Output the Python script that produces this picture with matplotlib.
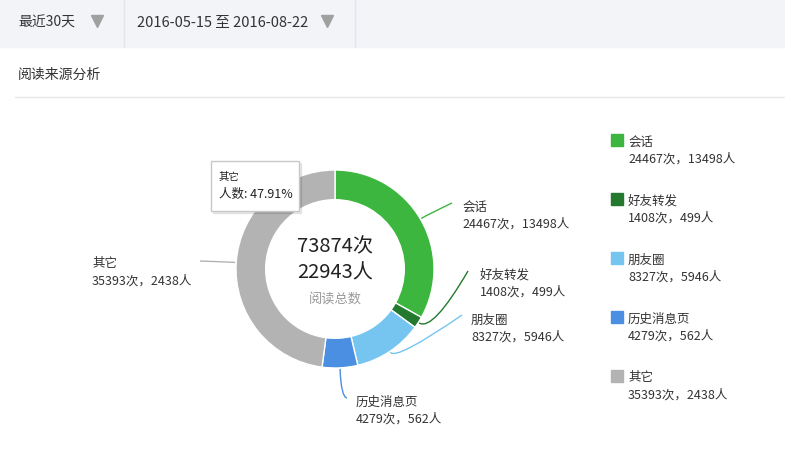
import numpy as np
import matplotlib
matplotlib.use("Agg")
import matplotlib.pyplot as plt
from matplotlib.patches import Rectangle, PathPatch
from matplotlib.path import Path

plt.rcParams['font.family'] = ['Noto Sans CJK SC', 'DejaVu Sans']

sources = ['会话', '好友转发', '朋友圈', '历史消息页', '其它']
reads = [24467, 1408, 8327, 4279, 35393]
people = [13498, 499, 5946, 562, 2438]
colors = ['#3db63f', '#237a2e', '#76c5f0', '#4a8fe2', '#b3b3b3']
period = '最近30天'
date_range = '2016-05-15 至 2016-08-22'
title = '阅读来源分析'
tip_name = '其它'
tip_text = '人数: 47.91%'

W, H = 785, 466
fig = plt.figure(figsize=(W / 100, H / 100), dpi=100)
ax = fig.add_axes([0, 0, 1, 1])
ax.set_xlim(0, W)
ax.set_ylim(H, 0)
ax.axis('off')
ax.set_zorder(2)
ax.patch.set_alpha(0)

txt = '#333333'

# top filter bar
ax.add_patch(Rectangle((0, 0), W, 47, color='#f3f4f8', zorder=0))
for xs in (124, 355):
    ax.plot([xs, xs], [0, 47], color='#e3e4e9', lw=1)
ax.text(18, 23, period, fontsize=10, color=txt, va='center')
ax.text(137, 23, date_range, fontsize=10.5, color=txt, va='center')
ax.plot([97, 327], [21, 21], ls='none', marker='v', ms=8.5, color='#a0a0a0')

ax.text(18, 75, title, fontsize=10, color=txt, va='center')
ax.plot([15, W], [96.5, 96.5], color='#e8e8e8', lw=1)

# donut
cx, cy, R = 335, 269, 99
pax = fig.add_axes([(cx - R) / W, (H - cy - R) / H, 2 * R / W, 2 * R / H])
pax.set_zorder(1)
pax.pie(reads, colors=colors, startangle=90, counterclock=False, radius=1,
        wedgeprops=dict(width=0.30, edgecolor='white', linewidth=1))
pax.set_xlim(-1, 1)
pax.set_ylim(-1, 1)
pax.axis('off')

total_reads = sum(reads)
total_people = sum(people)
ax.text(cx, 247, f'{total_reads}次', fontsize=14.5, color='#222222', ha='center', va='center')
ax.text(cx, 273, f'{total_people}人', fontsize=14.5, color='#222222', ha='center', va='center')
ax.text(cx, 300, '阅读总数', fontsize=9.5, color='#9a9a9a', ha='center', va='center')

# leader lines + labels
frac = np.cumsum([0] + reads) / total_reads
mids = (frac[:-1] + frac[1:]) / 2 * 2 * np.pi
label_pos = [(462, 207), (480, 275), (471, 320), (356, 402), (92, 264)]
line_end = [(452, 203), (468, 271), (462, 315), (347, 398), (200, 261)]
push = [8, 16, 10, 18, 6]
for i, a in enumerate(mids):
    d = np.array([np.sin(a), -np.cos(a)])
    p0 = np.array([cx, cy]) + d * (R + 1)
    p1 = p0 + d * push[i]
    if i == 3:
        p1 = p0 + d * push[i] + np.array([0, 10])
    p2 = np.array(line_end[i])
    path = Path([p0, p1, p2], [Path.MOVETO, Path.CURVE3, Path.CURVE3])
    ax.add_patch(PathPatch(path, fc='none', ec=colors[i], lw=1))
    lx, ly = label_pos[i]
    ax.text(lx, ly, sources[i], fontsize=9, color=txt, va='center')
    ax.text(lx, ly + 17, f'{reads[i]}次，{people[i]}人', fontsize=9, color=txt, va='center')

# legend
for i, s in enumerate(sources):
    y0 = 134 + i * 59
    ax.add_patch(Rectangle((611, y0), 12, 12, color=colors[i]))
    ax.text(628, y0 + 8, s, fontsize=9, color=txt, va='center')
    ax.text(628, y0 + 25, f'{reads[i]}次，{people[i]}人', fontsize=9, color=txt, va='center')

# tooltip
ax.add_patch(Rectangle((213, 163), 88, 50, color='#000000', alpha=0.08, zorder=5))
ax.add_patch(Rectangle((211, 161), 88, 50, fc='white', ec='#c8c8c8', lw=1, zorder=6))
ax.text(219, 177, tip_name, fontsize=7.5, color='#222222', va='center', zorder=7)
ax.text(219, 194, tip_text, fontsize=9, color='#222222', va='center', zorder=7)

fig.savefig('out.png', dpi=100)
